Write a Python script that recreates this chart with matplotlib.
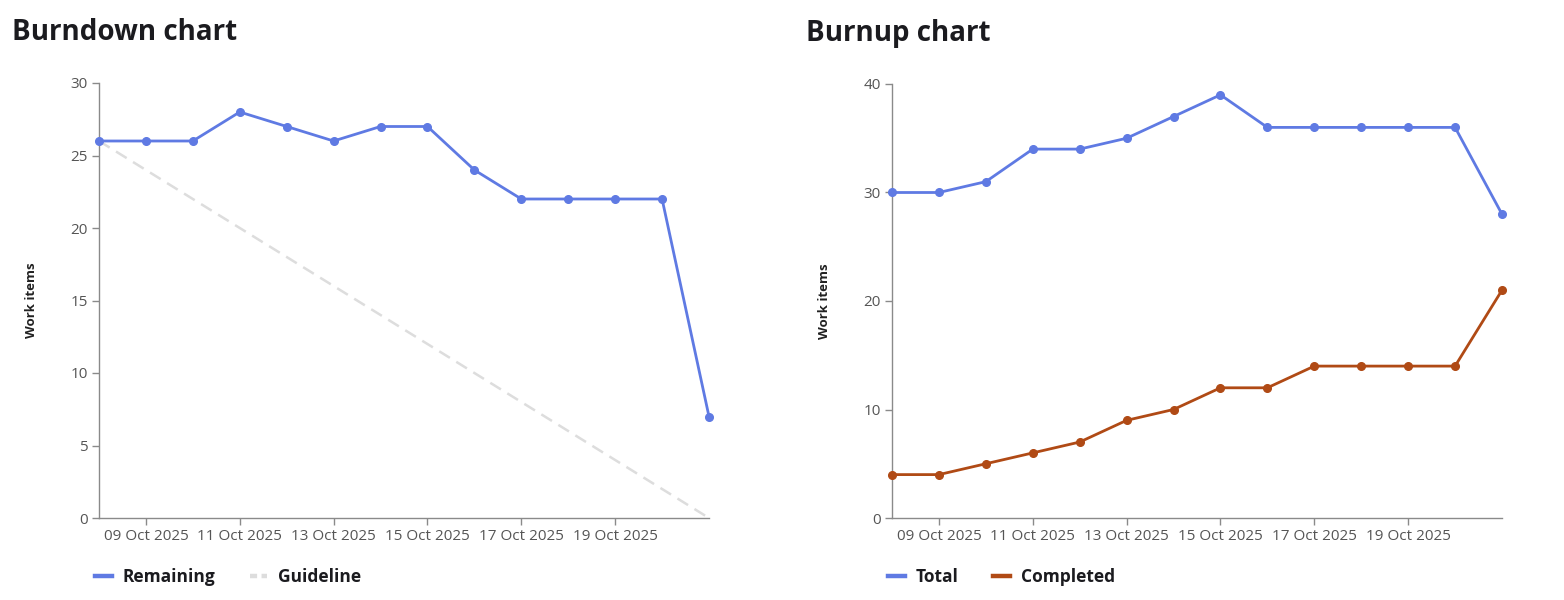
import matplotlib
matplotlib.use("Agg")
import matplotlib.pyplot as plt
import matplotlib.dates as mdates
import pandas as pd
from matplotlib.lines import Line2D

dates = pd.date_range("2025-10-08", "2025-10-21", freq="D")
remaining = [26, 26, 26, 28, 27, 26, 27, 27, 24, 22, 22, 22, 22, 7]
guideline = [26, 0]
total = [30, 30, 31, 34, 34, 35, 37, 39, 36, 36, 36, 36, 36, 28]
completed = [4, 4, 5, 6, 7, 9, 10, 12, 12, 14, 14, 14, 14, 21]
tick_dates = pd.date_range("2025-10-09", "2025-10-19", freq="2D")

BLUE = "#5F7AE3"
ORANGE = "#B04A15"
GUIDE = "#DDDDDD"
TICKC = "#555555"
SPINE = "#8A8A8A"

plt.rcParams['font.family'] = ['Open Sans', 'DejaVu Sans']

fig = plt.figure(figsize=(15.64, 6), dpi=100)
W, H = 1564, 600

def make_ax(x0, x1, ytop, ybot):
    return fig.add_axes([x0 / W, 1 - ybot / H, (x1 - x0) / W, (ybot - ytop) / H])

ax1 = make_ax(99, 709, 83, 518)
ax2 = make_ax(892, 1502, 84, 518)

def style(ax, ymax, ystep):
    for s in ["top", "right"]:
        ax.spines[s].set_visible(False)
    for s in ["left", "bottom"]:
        ax.spines[s].set_color(SPINE)
        ax.spines[s].set_linewidth(1.0)
    ax.set_xlim(dates[0], dates[-1])
    ax.set_ylim(0, ymax)
    ax.set_yticks(range(0, ymax + 1, ystep))
    ax.set_xticks(tick_dates)
    ax.xaxis.set_major_formatter(mdates.DateFormatter("%d %b %Y"))
    ax.tick_params(axis="both", colors=SPINE, labelcolor=TICKC, labelsize=11, length=5, width=1)
    ax.tick_params(axis="x", pad=3)
    ax.tick_params(axis="y", pad=3)
    ax.set_ylabel("Work items", fontsize=9.5, fontweight="bold", color="#222222")
    ax.yaxis.set_label_coords(-0.100, 0.5)

style(ax1, 30, 5)
style(ax2, 40, 10)

ax1.plot([dates[0], dates[-1]], guideline, color=GUIDE, lw=1.8, dashes=(5, 3), clip_on=False, zorder=2)
ax1.plot(dates, remaining, color=BLUE, lw=2, marker="o", ms=5.5, clip_on=False, zorder=3)

ax2.plot(dates, total, color=BLUE, lw=2, marker="o", ms=5.5, clip_on=False, zorder=3)
ax2.plot(dates, completed, color=ORANGE, lw=2, marker="o", ms=5.5, clip_on=False, zorder=3)

fig.text(12 / W, 1 - 33 / H, "Burndown chart", fontsize=20, fontweight="bold", color="#1B1B1F", va="center", ha="left")
fig.text(806 / W, 1 - 33 / H, "Burnup chart", fontsize=20, fontweight="bold", color="#1B1B1F", va="center", ha="left")

def leg(ax, items):
    handles = [Line2D([], [], color=c, lw=3.2, dashes=d) if d else Line2D([], [], color=c, lw=3.2) for c, d, _ in items]
    labels = [l for _, _, l in items]
    lg = ax.legend(handles, labels, loc="center left", bbox_to_anchor=(-0.007, -0.135), ncol=len(items),
                   frameon=False, fontsize=12.5, handlelength=1.0, handletextpad=0.6, columnspacing=2.0,
                   borderaxespad=0, borderpad=0)
    for t in lg.get_texts():
        t.set_fontweight("bold")
        t.set_color("#1B1B1F")

leg(ax1, [(BLUE, None, "Remaining"), (GUIDE, (1.6, 1.0), "Guideline")])
leg(ax2, [(BLUE, None, "Total"), (ORANGE, None, "Completed")])

fig.savefig("out.png", dpi=100)
